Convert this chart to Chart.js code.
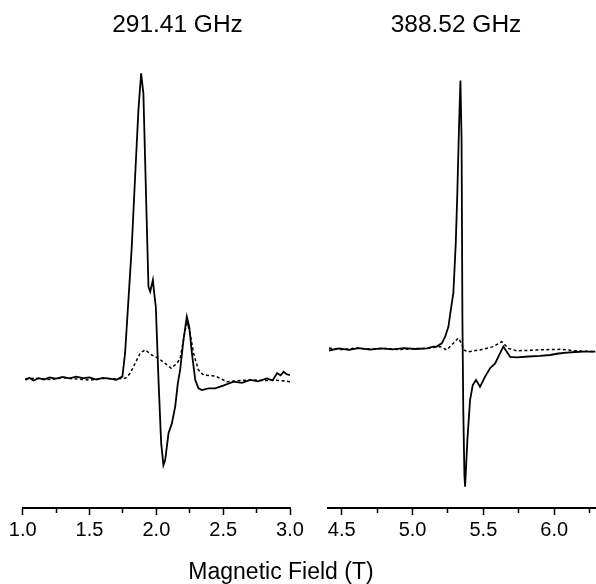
<!DOCTYPE html>
<html>
<head>
<meta charset="utf-8">
<script src="https://cdn.jsdelivr.net/npm/chart.js@4/dist/chart.umd.min.js"></script>
<style>
  body { margin: 0; background: #fff; }
  #wrap { position: relative; width: 596px; height: 584px; }
  #wrap canvas { position: absolute; left: 0; top: 0; }
</style>
</head>
<body>
<div id="wrap">
  <canvas id="left" width="596" height="584"></canvas>
  <canvas id="right" width="596" height="584"></canvas>
</div>
<script>
// 291.41 GHz panel, field in T, intensity in arbitrary units
const leftSolidB = [1.02,1.05,1.08,1.12,1.16,1.20,1.25,1.30,1.35,1.40,1.45,1.50,1.55,1.60,1.65,1.70,1.746,1.766,1.791,1.816,1.841,1.866,1.886,1.903,1.916,1.929,1.941,1.954,1.974,1.984,1.996,2.016,2.036,2.053,2.066,2.091,2.116,2.141,2.161,2.178,2.203,2.228,2.246,2.266,2.291,2.315,2.341,2.390,2.440,2.50,2.578,2.64,2.703,2.76,2.828,2.87,2.903,2.93,2.952,2.975,3.00];
const leftSolidI = [-0.3,0.4,-0.5,0.3,-0.2,0.5,0.1,0.7,0.2,0.8,0.3,0.5,-0.2,0.4,0.1,-0.3,0.8,8.6,26.3,44.1,67.4,89.7,101.9,95.2,73,50.8,30.8,29.1,33,28.6,24.1,-0.3,-21.4,-28.7,-27,-18.1,-14.8,-9.2,-1.4,3,13,20.8,17.4,8.6,-0.3,-3.1,-3.7,-3.1,-3.1,-2.2,-0.9,-1.3,-0.3,-0.8,0.2,-0.5,1.9,1.2,2.4,1.6,1.3];
const leftDashB = [1.02,1.10,1.20,1.30,1.40,1.50,1.60,1.70,1.77,1.804,1.841,1.879,1.916,1.966,2.016,2.066,2.111,2.154,2.178,2.216,2.233,2.253,2.278,2.315,2.353,2.441,2.528,2.60,2.703,2.80,2.90,3.00];
const leftDashI = [0,0.3,-0.2,0.4,0,-0.4,0.2,0,0.3,1.9,5.2,8.6,9.7,8,6.9,5.2,3.6,5.2,6.9,16.3,18.6,15.2,8.6,3,1.3,1,-0.9,-0.6,-0.3,-0.5,-0.4,-0.9];

// 388.52 GHz panel
const rightSolidB = [4.41,4.48,4.55,4.62,4.70,4.78,4.86,4.94,5.02,5.10,5.147,5.171,5.206,5.230,5.253,5.270,5.288,5.305,5.316,5.328,5.338,5.346,5.352,5.358,5.366,5.371,5.387,5.406,5.425,5.448,5.476,5.512,5.547,5.583,5.618,5.641,5.665,5.689,5.736,5.82,5.90,5.971,6.03,6.089,6.15,6.206,6.29];
const rightSolidI = [-0.5,0.2,-0.3,0.3,-0.2,0.2,-0.1,0.3,0,0.2,0.8,0.8,1.9,4.1,7.4,13,18.6,35.2,51.9,74.1,89.5,70,10,-20,-42,-45.9,-30.3,-17,-12,-10.3,-12.6,-9.2,-6.4,-4.8,-1.4,0.8,-0.9,-2.6,-2.8,-2.5,-2.3,-2,-1.5,-1.2,-1.0,-0.9,-0.9];
const rightDashB = [4.41,4.50,4.60,4.70,4.80,4.90,5.00,5.10,5.194,5.241,5.288,5.322,5.347,5.359,5.394,5.477,5.571,5.630,5.677,5.736,5.90,6.042,6.15,6.29];
const rightDashI = [0.3,-0.2,0.3,0,0.2,-0.2,0.1,0.2,0.8,-0.3,1.9,3.6,1.9,-0.3,-0.9,-0.3,0.8,2.4,0.2,-0.6,-0.3,-0.1,-0.6,-0.9];

const leftTitle = '291.41 GHz';
const rightTitle = '388.52 GHz';
const axisTitle = 'Magnetic Field (T)';

const FONT = '"Liberation Sans", Arial, Helvetica, sans-serif';

const zip = (xs, ys) => xs.map((x, i) => ({ x, y: ys[i] }));
const isMajor = v => Math.abs(v * 2 - Math.round(v * 2)) < 1e-6;

// plain text drawn on the canvas (panel titles + shared axis title)
const panelText = {
  id: 'panelText',
  afterDraw(chart, args, opts) {
    const ctx = chart.ctx;
    ctx.save();
    ctx.fillStyle = '#000';
    ctx.textAlign = 'center';
    ctx.textBaseline = 'alphabetic';
    for (const t of opts.items) {
      ctx.font = t.font;
      ctx.fillText(t.text, t.x, t.y);
    }
    ctx.restore();
  }
};

function makePanel(id, solid, dashed, xmin, xmax, ymin, ymax, padding, texts) {
  return new Chart(document.getElementById(id), {
    type: 'line',
    data: {
      datasets: [
        { data: solid, borderColor: '#000', borderWidth: 1.8, pointRadius: 0, tension: 0 },
        { data: dashed, borderColor: '#000', borderWidth: 1.5, borderDash: [3, 2.5], pointRadius: 0, tension: 0 }
      ]
    },
    options: {
      responsive: false,
      animation: false,
      events: [],
      layout: { padding },
      plugins: {
        legend: { display: false },
        tooltip: { enabled: false },
        panelText: { items: texts }
      },
      scales: {
        x: {
          type: 'linear',
          min: xmin,
          max: xmax,
          afterFit: s => { s.height = 40; },
          grid: {
            drawOnChartArea: false,
            tickLength: 7,
            tickColor: '#000',
            tickWidth: 1.5,
            tickBorderDash: c => (c.tick && isMajor(c.tick.value)) ? [] : [4, 20]
          },
          border: { color: '#000', width: 2 },
          ticks: {
            stepSize: 0.25,
            includeBounds: false,
            autoSkip: false,
            maxRotation: 0,
            padding: 3,
            color: '#000',
            font: { family: FONT, size: 20 },
            callback: v => isMajor(v) ? v.toFixed(1) : ''
          }
        },
        y: { display: false, min: ymin, max: ymax }
      }
    },
    plugins: [panelText]
  });
}

makePanel('left', zip(leftSolidB, leftSolidI), zip(leftDashB, leftDashI),
  1.0, 3.0, -43, 106.33,
  { left: 22.7, right: 306, top: 60, bottom: 36 },
  [
    { text: leftTitle, x: 177.5, y: 32, font: '24.5px ' + FONT },
    { text: axisTitle, x: 281, y: 579, font: '23px ' + FONT }
  ]);

makePanel('right', zip(rightSolidB, rightSolidI), zip(rightDashB, rightDashI),
  4.401, 6.295, -53, 96.33,
  { left: 327.7, right: 0, top: 60, bottom: 36 },
  [
    { text: rightTitle, x: 456, y: 32, font: '24.5px ' + FONT }
  ]);
</script>
</body>
</html>
